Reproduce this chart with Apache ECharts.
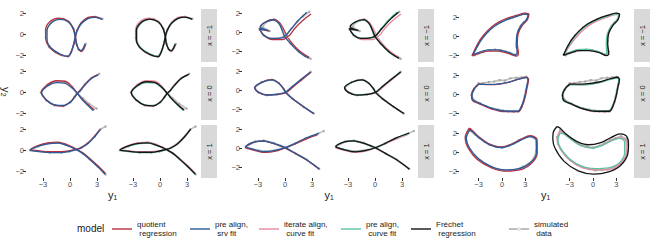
<!DOCTYPE html>
<html><head><meta charset="utf-8">
<script src="https://cdn.jsdelivr.net/npm/echarts@6/dist/echarts.min.js"></script>
<style>html,body{margin:0;padding:0;background:#fff}#c{width:650px;height:247px}</style>
</head><body><div id="c"></div>
<script>
// ---------- data ----------
const modelNames = ['quotient\n regression','pre align,\n srv fit','iterate align,\n curve fit','pre align,\n curve fit','Fréchet\n regression','simulated\n data'];
const facetLabels = ['x = \u22121','x = 0','x = 1'];
const xTicks = [-3,0,3];
const yTicks = [-2,0,2];

// group 1, x = -1
const g1r1Data = [[1.75,-0.9],[1.55,-1.3],[1.25,-1.6],[0.95,-1.45],[0.72,-0.9],[0.6,-0.2],[0.38,0.55],[-0.15,1.2],[-0.75,1.5],[-1.3,1.5],[-2.05,1.25],[-2.6,0.5],[-2.7,-0.3],[-2.3,-1.2],[-1.6,-1.7],[-0.9,-2.0],[-0.25,-2.1],[0.12,-1.7],[0.45,-0.9],[0.62,-0.2],[0.85,0.45],[1.3,1.1],[2.0,1.58],[2.75,1.7],[3.6,1.5]];
const g1r1Fre = [[1.7,-0.95],[1.52,-1.28],[1.26,-1.57],[0.96,-1.4],[0.7,-0.86],[0.59,-0.22],[0.33,0.59],[-0.22,1.22],[-1.15,1.48],[-2.0,1.22],[-2.63,0.42],[-2.63,-0.54],[-2.15,-1.34],[-1.15,-1.92],[-0.22,-2.15],[0.15,-1.66],[0.44,-0.86],[0.59,-0.22],[0.81,0.42],[1.26,1.07],[2.0,1.55],[2.74,1.67],[3.56,1.48]];
const g1r1Srv = [[1.68,-0.9],[1.5,-1.25],[1.25,-1.55],[0.95,-1.38],[0.7,-0.85],[0.58,-0.2],[0.35,0.55],[-0.15,1.2],[-1.1,1.45],[-1.95,1.2],[-2.55,0.4],[-2.55,-0.55],[-2.1,-1.3],[-1.1,-1.88],[-0.2,-2.1],[0.15,-1.62],[0.42,-0.85],[0.58,-0.2],[0.82,0.45],[1.3,1.1],[2.05,1.55],[2.8,1.65],[3.6,1.45]];
const g1r1Quot = [[1.72,-1.0],[1.55,-1.35],[1.28,-1.62],[0.98,-1.45],[0.72,-0.88],[0.6,-0.22],[0.38,0.6],[-0.2,1.3],[-1.2,1.58],[-2.15,1.3],[-2.72,0.45],[-2.68,-0.5],[-2.15,-1.35],[-1.15,-1.95],[-0.2,-2.12],[0.17,-1.65],[0.45,-0.86],[0.6,-0.22],[0.8,0.45],[1.22,1.12],[1.95,1.62],[2.7,1.72],[3.5,1.5]];
// group 1, x = 0
const g1r2Data = [[3.25,1.8],[2.4,1.4],[1.65,0.75],[1.1,0.15],[0.75,-0.1],[0.5,-0.45],[0.05,-0.95],[-0.75,-1.3],[-1.7,-1.25],[-2.65,-0.75],[-3.25,0.0],[-2.5,0.75],[-1.5,1.1],[-0.6,1.0],[0.2,0.5],[0.85,-0.05],[1.4,-0.55],[2.15,-1.1],[2.95,-1.55]];
const g1r2Fre = [[3.19,1.74],[2.37,1.36],[1.63,0.71],[1.07,0.13],[0.81,-0.09],[0.52,-0.41],[0.07,-0.89],[-0.78,-1.28],[-1.7,-1.21],[-2.63,-0.73],[-3.19,0.01],[-2.44,0.71],[-1.52,1.03],[-0.59,0.97],[0.15,0.55],[0.81,-0.09],[1.26,-0.57],[2.0,-1.21],[2.67,-1.69]];
const g1r2Srv = [[3.15,1.7],[2.35,1.32],[1.62,0.68],[1.08,0.1],[0.82,-0.1],[0.55,-0.42],[0.1,-0.88],[-0.75,-1.25],[-1.68,-1.2],[-2.6,-0.72],[-3.15,0.0],[-2.42,0.66],[-1.5,0.95],[-0.6,0.9],[0.15,0.5],[0.82,-0.1],[1.27,-0.6],[2.0,-1.25],[2.6,-1.75]];
const g1r2Quot = [[3.1,1.72],[2.3,1.35],[1.6,0.72],[1.05,0.15],[0.8,-0.08],[0.5,-0.4],[0.05,-0.9],[-0.8,-1.3],[-1.72,-1.22],[-2.65,-0.72],[-3.2,0.02],[-2.45,0.78],[-1.5,1.13],[-0.55,1.08],[0.2,0.6],[0.8,-0.08],[1.28,-0.55],[2.05,-1.2],[2.72,-1.66]];
// group 1, x = 1
const g1r3Data = [[3.95,2.3],[3.4,2.05],[2.75,1.35],[2.0,0.72],[1.25,0.28],[0.7,0.08],[-0.05,-0.1],[-0.95,-0.2],[-2.25,-0.2],[-3.55,-0.08],[-4.45,0.02],[-3.5,0.4],[-2.45,0.7],[-1.35,0.75],[-0.45,0.55],[0.35,0.25],[1.45,-0.3],[2.2,-0.85],[3.1,-1.55],[3.95,-2.3]];
const g1r3Fre = [[3.41,2.06],[2.74,1.32],[2.0,0.68],[1.26,0.26],[0.7,0.1],[-0.04,-0.05],[-0.96,-0.17],[-2.26,-0.17],[-3.56,-0.06],[-4.45,0.04],[-3.5,0.45],[-2.44,0.68],[-1.33,0.74],[-0.41,0.52],[0.33,0.26],[0.7,0.1],[1.44,-0.28],[2.19,-0.83],[3.11,-1.57],[3.93,-2.27]];
const g1r3Srv = [[3.38,2.02],[2.72,1.3],[2.0,0.66],[1.26,0.24],[0.7,0.08],[-0.04,-0.08],[-0.96,-0.2],[-2.26,-0.2],[-3.56,-0.08],[-4.42,0.03],[-3.5,0.42],[-2.44,0.64],[-1.33,0.7],[-0.41,0.5],[0.33,0.24],[0.7,0.08],[1.44,-0.3],[2.2,-0.86],[3.12,-1.6],[3.9,-2.28]];
const g1r3Quot = [[3.3,2.0],[2.7,1.36],[2.02,0.74],[1.28,0.3],[0.72,0.12],[-0.02,-0.02],[-0.96,-0.12],[-2.26,-0.12],[-3.56,-0.02],[-4.4,0.08],[-3.5,0.5],[-2.44,0.74],[-1.33,0.8],[-0.41,0.58],[0.33,0.3],[0.72,0.12],[1.46,-0.25],[2.22,-0.8],[3.15,-1.52],[3.95,-2.22]];

// group 2, x = -1
const g2r1Data = [[2.7,2.2],[2.0,1.7],[1.4,1.2],[0.7,0.4],[0.1,-0.3],[-0.6,-0.6],[-1.6,-0.65],[-2.4,-0.3],[-2.85,0.4],[-2.2,0.3],[-1.7,0.15],[-2.5,0.6],[-2.1,1.1],[-1.2,1.4],[-0.65,1.0],[-0.3,0.3],[0.1,-0.45],[0.6,-1.15],[1.5,-2.0],[2.2,-2.5],[2.85,-2.8]];
const g2r1Srv = [[2.44,2.15],[1.52,1.33],[0.59,0.27],[-0.04,-0.45],[-0.7,-0.62],[-1.63,-0.62],[-2.37,-0.27],[-2.85,0.4],[-1.8,0.2],[-2.75,0.6],[-2.19,1.09],[-1.26,1.33],[-0.7,0.98],[-0.33,0.27],[-0.04,-0.45],[0.59,-1.15],[1.52,-2.04],[2.63,-2.74]];
const g2r1Quot = [[2.89,1.97],[2.0,1.3],[1.1,0.45],[0.45,-0.35],[-0.3,-0.75],[-1.4,-0.75],[-2.3,-0.35],[-2.85,0.35],[-1.75,0.15],[-2.75,0.55],[-2.15,1.15],[-1.25,1.4],[-0.6,1.05],[-0.15,0.35],[0.25,-0.4],[0.75,-1.1],[1.6,-1.95],[2.7,-2.65]];
const g2r1Fre = [[2.6,2.15],[1.7,1.4],[0.7,0.35],[0.0,-0.4],[-0.7,-0.6],[-1.6,-0.62],[-2.35,-0.28],[-2.85,0.4],[-1.85,0.22],[-2.75,0.62],[-2.2,1.12],[-1.25,1.38],[-0.68,1.0],[-0.3,0.3],[0.0,-0.4],[0.62,-1.15],[1.55,-2.05],[2.68,-2.75]];
// group 2, x = 0
const g2r2Data = [[2.85,2.0],[1.75,1.15],[0.8,0.4],[0.05,-0.2],[-0.9,-0.45],[-2.0,-0.5],[-2.95,-0.2],[-3.35,0.3],[-2.6,0.9],[-1.45,1.15],[-0.7,0.8],[-0.15,0.15],[0.8,-0.85],[2.05,-1.75],[3.2,-2.45]];
const g2r2Srv = [[2.81,1.94],[1.7,1.12],[0.78,0.4],[0.04,-0.19],[-0.89,-0.4],[-2.0,-0.48],[-2.93,-0.19],[-3.37,0.3],[-2.56,0.87],[-1.44,1.12],[-0.7,0.77],[-0.15,0.16],[0.04,-0.19],[0.78,-0.83],[2.07,-1.72],[3.19,-2.43]];
const g2r2Quot = [[2.9,1.95],[1.82,1.1],[0.9,0.38],[0.1,-0.22],[-0.85,-0.42],[-2.0,-0.5],[-2.95,-0.2],[-3.35,0.3],[-2.55,0.9],[-1.45,1.15],[-0.7,0.8],[-0.12,0.15],[0.1,-0.22],[0.8,-0.85],[2.1,-1.75],[3.15,-2.45]];
const g2r2Fre = [[2.85,1.98],[1.75,1.14],[0.8,0.4],[0.05,-0.2],[-0.88,-0.42],[-2.0,-0.5],[-2.95,-0.2],[-3.38,0.3],[-2.58,0.88],[-1.45,1.13],[-0.7,0.78],[-0.14,0.15],[0.05,-0.2],[0.8,-0.84],[2.08,-1.73],[3.2,-2.44]];
// group 2, x = 1
const g2r3Data = [[4.3,1.85],[3.7,1.6],[2.3,1.1],[1.15,0.55],[0.05,0.1],[-0.9,-0.15],[-2.2,-0.3],[-3.7,-0.05],[-4.35,0.2],[-3.3,0.75],[-2.35,0.85],[-1.25,0.6],[-0.5,0.3],[1.15,-0.5],[2.45,-1.2],[3.8,-2.15]];
const g2r3Srv = [[3.74,1.62],[2.26,1.09],[1.15,0.55],[0.04,0.09],[-0.89,-0.16],[-2.19,-0.34],[-3.67,-0.05],[-4.33,0.19],[-3.3,0.72],[-2.37,0.8],[-1.26,0.55],[-0.52,0.3],[0.04,0.09],[1.15,-0.51],[2.44,-1.22],[3.81,-2.18]];
const g2r3Quot = [[3.6,1.45],[2.2,0.95],[1.1,0.45],[0.0,0.05],[-0.9,-0.25],[-2.2,-0.42],[-3.7,-0.12],[-4.4,0.1],[-4.25,0.28],[-3.3,0.7],[-2.35,0.78],[-1.25,0.52],[-0.5,0.25],[0.0,0.05],[1.15,-0.55],[2.45,-1.25],[3.8,-2.22]];
const g2r3Fre = [[3.8,1.65],[2.3,1.1],[1.15,0.55],[0.04,0.08],[-0.9,-0.18],[-2.2,-0.35],[-3.68,-0.06],[-4.35,0.2],[-3.3,0.73],[-2.37,0.82],[-1.26,0.56],[-0.52,0.3],[0.04,0.08],[1.15,-0.52],[2.45,-1.23],[3.82,-2.2]];

// group 3, x = -1
const g3r1Data = [[-3.75,-1.95],[-3.4,-1.4],[-3.1,-0.95],[-2.75,-0.4],[-2.3,0.1],[-1.8,0.5],[-1.25,0.95],[-0.7,1.25],[-0.1,1.5],[0.55,1.8],[1.2,1.95],[1.85,2.15],[2.5,2.3],[3.0,2.4],[3.35,2.3],[3.2,1.8],[2.75,1.45],[2.4,1.1],[2.1,0.6],[1.95,0.1],[1.9,-0.5],[1.85,-1.1],[2.0,-1.6],[1.75,-1.95],[1.1,-1.75],[0.5,-1.6],[-0.2,-1.45],[-0.9,-1.4],[-1.6,-1.45],[-2.3,-1.6],[-2.9,-1.75],[-3.5,-2.0]];
const g3r1Srv = [[-3.72,-1.96],[-3.29,-1.25],[-2.65,-0.38],[-1.79,0.49],[-0.73,1.2],[0.55,1.73],[1.83,2.07],[2.91,2.33],[3.33,2.25],[3.12,1.73],[2.48,1.2],[1.96,0.33],[1.83,-0.73],[1.96,-1.78],[1.71,-1.96],[0.77,-1.67],[-0.51,-1.43],[-1.79,-1.43],[-2.86,-1.67],[-3.72,-1.96]];
const g3r1Quot = [[-3.85,-2.05],[-3.4,-1.25],[-2.75,-0.3],[-1.85,0.6],[-0.75,1.35],[0.55,1.88],[1.85,2.2],[2.95,2.45],[3.45,2.35],[3.25,1.75],[2.6,1.15],[2.08,0.3],[1.97,-0.75],[2.1,-1.85],[1.8,-2.08],[0.8,-1.8],[-0.5,-1.55],[-1.8,-1.55],[-2.9,-1.8],[-3.85,-2.05]];
const g3r1Fre = [[-3.8,-2.0],[-3.35,-1.2],[-2.7,-0.3],[-1.8,0.55],[-0.7,1.3],[0.6,1.85],[1.85,2.2],[2.95,2.45],[3.4,2.3],[3.2,1.75],[2.55,1.15],[2.0,0.3],[1.88,-0.75],[2.02,-1.85],[1.75,-2.02],[0.8,-1.72],[-0.5,-1.5],[-1.8,-1.5],[-2.9,-1.75],[-3.8,-2.0]];
const g3r1Pre = [[-3.7,-1.9],[-3.25,-1.2],[-2.6,-0.35],[-1.75,0.5],[-0.7,1.2],[0.55,1.75],[1.8,2.1],[2.9,2.35],[3.3,2.25],[3.05,1.7],[2.4,1.15],[1.85,0.3],[1.7,-0.75],[1.75,-1.75],[1.5,-1.9],[0.7,-1.62],[-0.5,-1.38],[-1.75,-1.38],[-2.8,-1.62],[-3.7,-1.9]];
const g3r1Iter = [[-3.65,-1.88],[-3.15,-1.2],[-2.45,-0.4],[-1.6,0.4],[-0.6,1.1],[0.6,1.65],[1.8,2.02],[2.85,2.3],[3.28,2.22],[3.08,1.72],[2.45,1.18],[1.92,0.3],[1.78,-0.75],[1.88,-1.78],[1.62,-1.94],[0.72,-1.64],[-0.5,-1.4],[-1.75,-1.4],[-2.82,-1.64],[-3.65,-1.88]];
// group 3, x = 0
const g3r2Data = [[-3.0,1.15],[-2.4,1.2],[-1.7,1.3],[-1.0,1.35],[-0.3,1.5],[0.4,1.45],[1.1,1.7],[1.8,1.75],[2.5,1.8],[3.1,1.85],[3.35,1.6],[3.2,1.0],[3.05,0.4],[2.9,-0.2],[2.75,-0.8],[2.5,-1.3],[2.1,-1.8],[1.5,-1.85],[0.8,-1.8],[0.2,-1.7],[-0.5,-1.6],[-1.3,-1.45],[-2.0,-1.25],[-2.8,-0.95],[-3.6,-0.6],[-3.9,-0.1],[-3.6,0.5],[-3.2,0.9],[-3.0,1.15]];
const g3r2Srv = [[-2.99,1.06],[-2.0,1.06],[-0.94,1.06],[0.77,1.27],[2.27,1.62],[3.12,1.76],[3.33,1.52],[3.12,0.64],[2.91,-0.24],[2.48,-1.29],[2.05,-1.75],[0.35,-1.75],[-1.37,-1.46],[-2.86,-0.94],[-3.72,-0.59],[-3.85,-0.06],[-3.5,0.64],[-2.99,1.06]];
const g3r2Quot = [[-3.0,1.1],[-2.0,1.02],[-0.94,1.02],[0.75,1.25],[2.25,1.62],[3.15,1.8],[3.4,1.55],[3.2,0.62],[2.98,-0.26],[2.55,-1.32],[2.1,-1.82],[0.35,-1.82],[-1.4,-1.52],[-2.9,-1.0],[-3.8,-0.62],[-3.92,-0.06],[-3.55,0.66],[-3.0,1.1]];
const g3r2Fre = [[-2.95,1.08],[-2.0,1.08],[-0.94,1.1],[0.77,1.3],[2.27,1.66],[3.15,1.8],[3.38,1.55],[3.16,0.64],[2.95,-0.24],[2.52,-1.3],[2.08,-1.78],[0.35,-1.78],[-1.37,-1.5],[-2.86,-0.98],[-3.75,-0.62],[-3.9,-0.06],[-3.52,0.66],[-2.95,1.08]];
const g3r2Pre = [[-3.05,1.02],[-2.0,1.0],[-0.94,1.0],[0.75,1.22],[2.25,1.58],[3.1,1.72],[3.3,1.5],[3.1,0.62],[2.9,-0.25],[2.46,-1.28],[2.02,-1.72],[0.35,-1.74],[-1.4,-1.48],[-2.92,-0.98],[-3.82,-0.62],[-3.95,-0.06],[-3.58,0.64],[-3.05,1.02]];
// group 3, x = 1
const g3r3Data = [[-4.2,2.35],[-4.6,1.6],[-4.5,0.9],[-4.1,0.3],[-3.5,-0.3],[-2.9,-0.8],[-2.1,-1.25],[-1.3,-1.55],[-0.5,-1.75],[0.3,-1.9],[1.1,-1.85],[1.9,-1.8],[2.7,-1.5],[3.5,-1.15],[4.1,-0.6],[4.4,0.1],[4.45,0.8],[4.3,1.4],[3.6,1.7],[2.9,1.5],[2.2,1.3],[1.5,0.95],[0.8,0.7],[0.0,0.5],[-0.8,0.6],[-1.6,0.8],[-2.3,1.15],[-2.9,1.5],[-3.5,1.9],[-4.2,2.35]];
const g3r3Srv = [[-4.14,2.36],[-4.58,1.48],[-4.14,0.43],[-3.08,-0.62],[-1.37,-1.5],[0.35,-1.85],[2.05,-1.75],[3.55,-1.15],[4.4,-0.09],[4.4,1.31],[3.55,1.65],[2.48,1.31],[1.19,0.78],[-0.09,0.5],[-1.58,0.78],[-2.86,1.48],[-3.72,2.12],[-4.14,2.36]];
const g3r3Quot = [[-4.2,2.55],[-4.72,1.55],[-4.3,0.4],[-3.2,-0.72],[-1.4,-1.62],[0.35,-1.98],[2.1,-1.88],[3.65,-1.25],[4.52,-0.1],[4.5,1.35],[3.6,1.75],[2.45,1.4],[1.15,0.85],[-0.1,0.58],[-1.6,0.88],[-2.9,1.6],[-3.8,2.3],[-4.2,2.55]];
const g3r3Fre = [[-4.6,2.72],[-5.1,2.1],[-5.15,1.4],[-4.85,0.4],[-3.7,-0.95],[-1.9,-1.95],[0.1,-2.3],[2.0,-2.05],[3.5,-1.4],[4.45,-0.2],[4.55,0.9],[4.3,1.7],[3.5,1.95],[2.3,1.55],[0.9,1.0],[-0.6,0.8],[-2.1,1.15],[-3.5,1.95],[-4.2,2.55],[-4.6,2.72]];
const g3r3Pre = [[-4.2,2.05],[-4.5,1.3],[-4.1,0.35],[-3.0,-0.7],[-1.35,-1.5],[0.35,-1.72],[1.95,-1.64],[3.4,-1.08],[4.05,-0.05],[4.05,1.12],[3.4,1.48],[2.4,1.22],[1.15,0.72],[-0.1,0.45],[-1.55,0.7],[-2.85,1.38],[-3.7,1.9],[-4.2,2.05]];
const g3r3Iter = [[-4.3,2.2],[-4.6,1.4],[-4.2,0.38],[-3.1,-0.75],[-1.4,-1.6],[0.35,-1.85],[2.05,-1.8],[3.55,-1.2],[4.25,-0.08],[4.22,1.18],[3.45,1.55],[2.42,1.28],[1.17,0.76],[-0.1,0.48],[-1.57,0.74],[-2.88,1.45],[-3.8,2.05],[-4.3,2.2]];

// ---------- assembly ----------
const shapes = [
  [{data:g1r1Data,quot:g1r1Quot,srv:g1r1Srv,iter:g1r1Quot,pre:g1r1Srv,fre:g1r1Fre},
   {data:g1r2Data,quot:g1r2Quot,srv:g1r2Srv,iter:g1r2Quot,pre:g1r2Srv,fre:g1r2Fre},
   {data:g1r3Data,quot:g1r3Quot,srv:g1r3Srv,iter:g1r3Quot,pre:g1r3Srv,fre:g1r3Fre}],
  [{data:g2r1Data,quot:g2r1Quot,srv:g2r1Srv,iter:g2r1Quot,pre:g2r1Srv,fre:g2r1Fre},
   {data:g2r2Data,quot:g2r2Quot,srv:g2r2Srv,iter:g2r2Quot,pre:g2r2Srv,fre:g2r2Fre},
   {data:g2r3Data,quot:g2r3Quot,srv:g2r3Srv,iter:g2r3Quot,pre:g2r3Srv,fre:g2r3Fre}],
  [{data:g3r1Data,quot:g3r1Quot,srv:g3r1Srv,iter:g3r1Iter,pre:g3r1Pre,fre:g3r1Fre},
   {data:g3r2Data,quot:g3r2Quot,srv:g3r2Srv,iter:g3r2Quot,pre:g3r2Pre,fre:g3r2Fre},
   {data:g3r3Data,quot:g3r3Quot,srv:g3r3Srv,iter:g3r3Iter,pre:g3r3Pre,fre:g3r3Fre}]
];

const FONT = '"Liberation Sans", Arial, Helvetica, sans-serif';
const COLORS = {quot:'#B8303E', srv:'#2C5A98', iter:'#E8899B', pre:'#5CC2A4', fre:'#141414', data:'#BDBDBD'};
const NAME = {quot:modelNames[0], srv:modelNames[1], iter:modelNames[2], pre:modelNames[3], fre:modelNames[4], data:modelNames[5]};

// layout (pixels)
const G = [
  {colLeft:[26,116], w:83, zero:[70,160], sx:9.0, ymax:2.45, sy:10.4},
  {colLeft:[242,332], w:84, zero:[285,375], sx:9.0, ymax:2.5, sy:9.4},
  {colLeft:[459,550], w:82, zero:[502,593], sx:7.8, ymax:2.88, sy:9.5}
];
const rowTop = [9,67,125], H = 53;

function fmt(v){ return v < 0 ? '\u2212' + (-v) : String(v); }

const grids = [], xAxes = [], yAxes = [], series = [], graphics = [];
let idx = 0;
G.forEach((g, gi) => {
  for (let r = 0; r < 3; r++) {
    for (let c = 0; c < 2; c++) {
      grids.push({left:g.colLeft[c], top:rowTop[r], width:g.w, height:H, containLabel:false});
      const bottom = r === 2, leftCol = c === 0;
      xAxes.push({type:'value', gridIndex:idx, position:'bottom',
        min:(g.colLeft[c]-g.zero[c])/g.sx, max:(g.colLeft[c]+g.w-g.zero[c])/g.sx,
        axisLine:{show:false, onZero:false}, splitLine:{show:false},
        axisTick:{show:bottom, customValues:xTicks, length:3, lineStyle:{color:'#333333', width:1}},
        axisLabel:{show:bottom, customValues:xTicks, formatter:fmt, fontSize:7.5, color:'#4D4D4D', margin:2, fontFamily:FONT}});
      yAxes.push({type:'value', gridIndex:idx, position:'left',
        min:g.ymax - H/g.sy, max:g.ymax,
        axisLine:{show:false, onZero:false}, splitLine:{show:false},
        axisTick:{show:leftCol, customValues:yTicks, length:3, lineStyle:{color:'#333333', width:1}},
        axisLabel:{show:leftCol, customValues:yTicks, formatter:fmt, fontSize:7.5, color:'#4D4D4D', margin:2, fontFamily:FONT}});
      const sh = shapes[gi][r];
      const keys = c === 0 ? ['data','quot','srv'] : ['data','iter','pre','fre'];
      keys.forEach(k => {
        const isData = k === 'data';
        series.push({
          type:'line', name:NAME[k], xAxisIndex:idx, yAxisIndex:idx,
          data:sh[k], smooth:isData ? false : 0.35,
          symbol:isData ? 'circle' : 'none', symbolSize:2.4, showSymbol:isData,
          lineStyle:{color:COLORS[k], width:isData ? 1.6 : 1.3},
          itemStyle:{color:isData ? '#A9A9A9' : COLORS[k]},
          emphasis:{disabled:true}, silent:true, animation:false, z:isData ? 1 : 2
        });
      });
      idx++;
    }
  }
  // facet strips
  const sx0 = g.colLeft[1] + g.w + 2;
  for (let r = 0; r < 3; r++) {
    graphics.push({type:'rect', shape:{x:sx0, y:rowTop[r], width:16, height:H}, style:{fill:'#D9D9D9'}, silent:true});
    graphics.push({type:'text', x:sx0 + 8, y:rowTop[r] + H/2, rotation:Math.PI/2,
      style:{text:facetLabels[r], fontSize:7.5, fontFamily:FONT, fill:'#1A1A1A',
             textAlign:'center', textVerticalAlign:'middle', align:'center', verticalAlign:'middle'}, silent:true});
  }
  // x axis title
  const cx = (g.colLeft[0] + g.colLeft[1] + g.w) / 2;
  graphics.push({type:'text', x:cx, y:195, style:{text:'y\u2081', fontSize:11, fontFamily:FONT, fill:'#1A1A1A',
    textAlign:'center', textVerticalAlign:'middle', align:'center', verticalAlign:'middle'}, silent:true});
});
// y axis title (first group only)
graphics.push({type:'text', x:6, y:92, rotation:-Math.PI/2, style:{text:'y\u2082', fontSize:11, fontFamily:FONT, fill:'#1A1A1A',
  textAlign:'center', textVerticalAlign:'middle', align:'center', verticalAlign:'middle'}, silent:true});

const legendLeft = [112,190,259,341,411,509];
const lineIcon = 'rect';
const dataIcon = 'path://M0,0.8H20V2.2H0Z M8.5,1.5A1.5,1.5,0,1,0,11.5,1.5A1.5,1.5,0,1,0,8.5,1.5Z';
const legends = modelNames.map((n, i) => ({
  data:[{name:n, icon: i === 5 ? dataIcon : lineIcon}],
  left:legendLeft[i], top:220, padding:0, itemWidth:20, itemHeight: i === 5 ? 3 : 1.4, itemGap:0,
  selectedMode:false, textStyle:{fontSize:8, lineHeight:9, color:'#1A1A1A', fontFamily:FONT}
}));

const chart = echarts.init(document.getElementById('c'), null, {renderer:'svg'});
chart.setOption({
  animation:false,
  backgroundColor:'#ffffff',
  title:{text:'model', left:77, top:223, padding:0, textStyle:{fontSize:10, fontWeight:'normal', color:'#1A1A1A', fontFamily:FONT}},
  legend:legends,
  grid:grids, xAxis:xAxes, yAxis:yAxes, series:series, graphic:graphics
});
</script></body></html>
